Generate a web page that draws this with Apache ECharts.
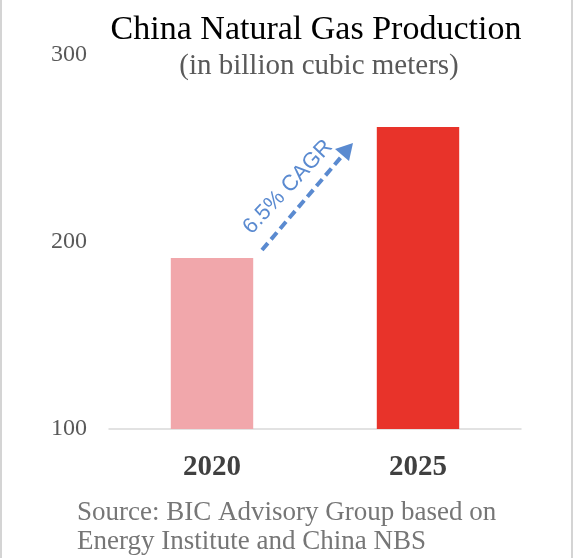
<!DOCTYPE html>
<html><head><meta charset="utf-8">
<script src="https://cdn.jsdelivr.net/npm/echarts@6/dist/echarts.min.js"></script>
<style>html,body{margin:0;padding:0;background:#fff}#c{width:576px;height:558px}</style>
</head><body><div id="c"></div>
<script>
const categories = ['2020', '2025'];
const production = [191.5, 261.5];
const barColors = ['#f1a7ab', '#e8332a'];
const yTicks = [100, 200, 300];
const cagrLabel = '6.5% CAGR';
const titleText = 'China Natural Gas Production';
const subtitleText = '(in billion cubic meters)';
const sourceLines = ['Source: BIC Advisory Group based on', 'Energy Institute and China NBS'];

const serif = '"Liberation Serif", "Times New Roman", serif';
const chart = echarts.init(document.getElementById('c'), null, {renderer: 'canvas'});
chart.setOption({
  animation: false,
  backgroundColor: '#fff',
  title: [
    {text: titleText, left: 311, textAlign: 'center', top: 8,
     textStyle: {fontFamily: serif, fontSize: 34, fontWeight: 'normal', color: '#000'}},
    {text: subtitleText, left: 314, textAlign: 'center', top: 47,
     textStyle: {fontFamily: serif, fontSize: 29, fontWeight: 'normal', color: '#595959'}}
  ],
  grid: {left: 109, right: 55, top: 55, bottom: 129, containLabel: false},
  xAxis: {
    type: 'category', data: categories,
    axisLine: {lineStyle: {color: '#d9d9d9', width: 1.5}},
    axisTick: {show: false},
    axisLabel: {fontFamily: serif, fontSize: 29, fontWeight: 'bold', color: '#404040', margin: 24}
  },
  yAxis: {
    type: 'value', min: yTicks[0], max: yTicks[yTicks.length - 1], interval: 100,
    axisLine: {show: false}, axisTick: {show: false}, splitLine: {show: false},
    axisLabel: {fontFamily: serif, fontSize: 24, color: '#595959', margin: 22, padding: [3, 0, 0, 0]}
  },
  series: [{
    type: 'bar', barWidth: '40%',
    data: production.map((v, i) => ({value: v, itemStyle: {color: barColors[i]}}))
  }],
  graphic: [
    {type: 'line', shape: {x1: 1, y1: 0, x2: 1, y2: 558}, style: {stroke: '#d4d4d4', lineWidth: 2}},
    {type: 'line', shape: {x1: 572, y1: 0, x2: 572, y2: 558}, style: {stroke: '#d4d4d4', lineWidth: 2}},
    {type: 'line', shape: {x1: 262, y1: 250, x2: 342, y2: 156},
     style: {stroke: '#5a8ad0', lineWidth: 4, lineDash: [9, 5]}},
    {type: 'polygon', shape: {points: [[353, 143], [349, 161], [335, 149]]},
     style: {fill: '#5a8ad0'}},
    {type: 'text', x: 288, y: 187, rotation: 47 * Math.PI / 180,
     style: {text: cagrLabel, font: '22px "Liberation Sans", Arial, sans-serif', fill: '#5a8ad0',
             align: 'center', verticalAlign: 'middle'}},
    {type: 'text', left: 77, top: 498,
     style: {text: sourceLines.join('\n'), font: '27px ' + serif, fill: '#767676', lineHeight: 29}}
  ]
});
</script></body></html>
